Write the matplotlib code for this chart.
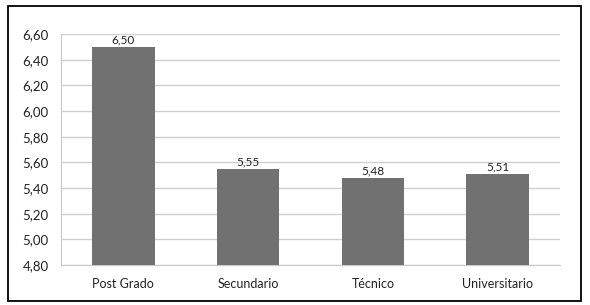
import matplotlib
matplotlib.use("Agg")
import matplotlib.pyplot as plt
from matplotlib.patches import Rectangle

categories = ["Post Grado", "Secundario", "Técnico", "Universitario"]
values = [6.50, 5.55, 5.48, 5.51]
yticks = [4.80, 5.00, 5.20, 5.40, 5.60, 5.80, 6.00, 6.20, 6.40, 6.60]

plt.rcParams['font.family'] = ['Lato', 'DejaVu Sans']
W, H = 590, 305
fig = plt.figure(figsize=(W/100, H/100), dpi=100)
ax = fig.add_axes([61/W, (H-265)/H, (560-61)/W, (265-34)/H])

x = list(range(len(categories)))
ax.bar(x, values, width=0.5, color="#717171", zorder=3)
ax.set_ylim(4.80, 6.60)
ax.set_xlim(-0.5, len(categories)-0.5)
ax.set_yticks(yticks)
ax.set_yticklabels([f"{v:.2f}".replace(".", ",") for v in yticks], fontsize=9.5)
ax.set_xticks(x)
ax.set_xticklabels(categories, fontsize=9)
ax.tick_params(axis='both', length=0, colors="#222222")
ax.tick_params(axis='y', pad=9)
ax.tick_params(axis='x', pad=9)
ax.grid(axis='y', color="#d0d0d0", linewidth=1, zorder=0)
for s in ["top", "right"]:
    ax.spines[s].set_visible(False)
ax.spines["bottom"].set_color("#c8c8c8")
ax.spines["left"].set_color("#c8c8c8")
for xi, v in zip(x, values):
    ax.text(xi, v + 0.008, f"{v:.2f}".replace(".", ","), ha="center", va="bottom",
            fontsize=8.5, color="#222222")

fig.patches.append(Rectangle((8/W, (H-301)/H), (581-8)/W, (301-6)/H,
                             transform=fig.transFigure, fill=False,
                             edgecolor="black", linewidth=1.3))
fig.savefig("out.png", dpi=100)
